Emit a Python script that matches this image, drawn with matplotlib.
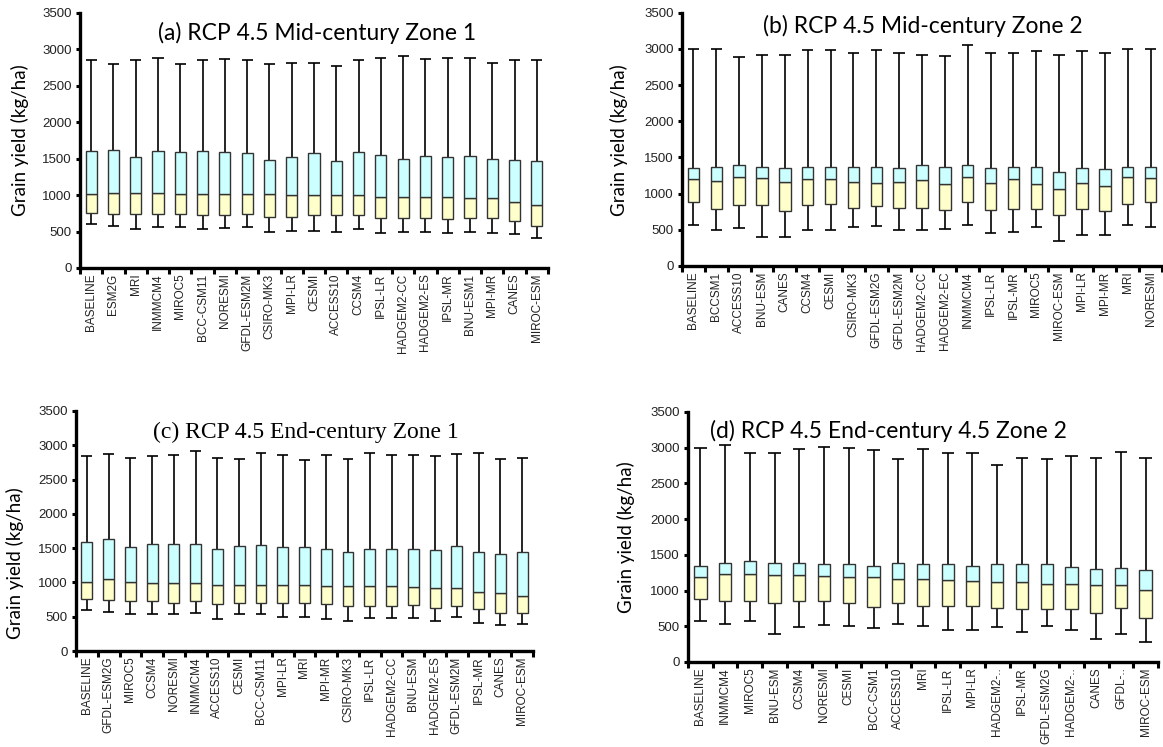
import matplotlib
matplotlib.use("Agg")
import matplotlib.pyplot as plt
import numpy as np

# ---- panel (a) RCP 4.5 Mid-century Zone 1
labels_a = ["BASELINE", "ESM2G", "MRI", "INMMCM4", "MIROC5", "BCC-CSM11", "NORESMI",
            "GFDL-ESM2M", "CSIRO-MK3", "MPI-LR", "CESMI", "ACCESS10", "CCSM4", "IPSL-LR",
            "HADGEM2-CC", "HADGEM2-ES", "IPSL-MR", "BNU-ESM1", "MPI-MR", "CANES", "MIROC-ESM"]
max_a = [2850, 2800, 2850, 2880, 2800, 2850, 2870, 2850, 2800, 2810, 2810, 2770, 2850, 2880,
         2900, 2870, 2880, 2880, 2810, 2850, 2850]
q3_a = [1600, 1620, 1520, 1600, 1590, 1600, 1590, 1570, 1480, 1520, 1570, 1470, 1590, 1550,
        1500, 1530, 1520, 1530, 1500, 1480, 1470]
med_a = [1010, 1030, 1030, 1030, 1010, 1010, 1010, 1010, 1010, 1000, 1000, 1000, 1000, 980,
         980, 980, 980, 960, 960, 910, 860]
q1_a = [750, 740, 740, 740, 740, 720, 720, 740, 700, 700, 720, 720, 720, 690,
        690, 690, 670, 690, 690, 640, 580]
min_a = [600, 580, 530, 560, 560, 530, 550, 560, 500, 510, 510, 500, 530, 480,
         500, 500, 480, 500, 480, 470, 410]

# ---- panel (b) RCP 4.5 Mid-century Zone 2
labels_b = ["BASELINE", "BCCSM1", "ACCESS10", "BNU-ESM", "CANES", "CCSM4", "CESMI",
            "CSIRO-MK3", "GFDL-ESM2G", "GFDL-ESM2M", "HADGEM2-CC", "HADGEM2-EC", "INMMCM4",
            "IPSL-LR", "IPSL-MR", "MIROC5", "MIROC-ESM", "MPI-LR", "MPI-MR", "MRI", "NORESMI"]
max_b = [3000, 3000, 2890, 2920, 2910, 2980, 2980, 2950, 2980, 2950, 2920, 2900, 3050,
         2950, 2950, 2970, 2920, 2970, 2950, 3000, 3000]
q3_b = [1356, 1374, 1393, 1374, 1356, 1374, 1374, 1374, 1374, 1356, 1393, 1374, 1393,
        1356, 1374, 1374, 1305, 1356, 1337, 1374, 1374]
med_b = [1203, 1171, 1236, 1217, 1162, 1203, 1203, 1167, 1148, 1167, 1185, 1134, 1236,
         1148, 1203, 1134, 1060, 1148, 1111, 1236, 1217]
q1_b = [881, 793, 844, 844, 756, 844, 862, 807, 825, 807, 807, 775, 881,
        775, 793, 793, 705, 793, 756, 862, 881]
min_b = [567, 503, 530, 397, 397, 503, 503, 535, 553, 503, 503, 516, 572,
         452, 470, 535, 346, 433, 433, 572, 535]

# ---- panel (c) RCP 4.5 End-century Zone 1
labels_c = ["BASELINE", "GFDL-ESM2G", "MIROC5", "CCSM4", "NORESMI", "INMMCM4", "ACCESS10",
            "CESMI", "BCC-CSM11", "MPI-LR", "MRI", "MPI-MR", "CSIRO-MK3", "IPSL-LR",
            "HADGEM2-CC", "BNU-ESM", "HADGEM2-ES", "GFDL-ESM2M", "IPSL-MR", "CANES", "MIROC-ESM"]
max_c = [2837, 2871, 2818, 2837, 2857, 2910, 2818, 2803, 2891, 2857, 2784, 2857, 2803, 2891,
         2857, 2857, 2837, 2871, 2891, 2803, 2818]
q3_c = [1594, 1633, 1516, 1565, 1565, 1565, 1492, 1531, 1550, 1516, 1516, 1492, 1443, 1492,
        1492, 1492, 1472, 1531, 1443, 1409, 1443]
med_c = [1009, 1053, 1009, 985, 985, 985, 965, 965, 965, 965, 965, 946, 946, 946,
         946, 931, 912, 912, 863, 848, 804]
q1_c = [760, 746, 726, 726, 707, 726, 692, 707, 707, 707, 707, 692, 658, 658,
        658, 678, 634, 658, 619, 551, 551]
min_c = [604, 570, 536, 536, 536, 551, 463, 536, 536, 497, 497, 463, 444, 483,
         483, 483, 444, 497, 410, 375, 390]

# ---- panel (d) RCP 4.5 End-century 4.5 Zone 2
labels_d = ["BASELINE", "INMMCM4", "MIROC5", "BNU-ESM", "CCSM4", "NORESMI", "CESMI",
            "BCC-CSM1", "ACCESS10", "MRI", "IPSL-LR", "MPI-LR", "HADGEM2-..", "IPSL-MR",
            "GFDL-ESM2G", "HADGEM2-..", "CANES", "GFDL-..", "MIROC-ESM"]
max_d = [3000, 3043, 2926, 2926, 2978, 3005, 2996, 2964, 2838, 2978, 2926, 2926, 2759, 2857,
         2838, 2889, 2857, 2945, 2857]
q3_d = [1351, 1389, 1407, 1389, 1389, 1370, 1370, 1351, 1389, 1370, 1370, 1351, 1370, 1370,
        1370, 1333, 1300, 1319, 1286]
med_d = [1184, 1235, 1235, 1216, 1216, 1202, 1184, 1184, 1165, 1165, 1151, 1132, 1114, 1114,
         1095, 1095, 1081, 1081, 1011]
q1_d = [885, 857, 857, 820, 857, 857, 820, 769, 820, 788, 788, 788, 750, 736,
        736, 736, 685, 750, 610]
min_d = [569, 536, 569, 387, 489, 517, 503, 471, 536, 503, 452, 452, 489, 419,
         503, 452, 317, 387, 284]

W, H = 1163, 747
fig = plt.figure(figsize=(W / 100, H / 100), dpi=100)


def px_axes(x0, x1, ytop, ybot):
    return fig.add_axes([x0 / W, 1 - ybot / H, (x1 - x0) / W, (ybot - ytop) / H])


def draw_panel(ax, labels, mx, q3, med, q1, mn):
    n = len(labels)
    x = np.arange(1, n + 1)
    q3 = np.array(q3); med = np.array(med); q1 = np.array(q1)
    w = 0.5
    ax.vlines(x, mn, q1, color="black", lw=1.2, zorder=1)
    ax.vlines(x, q3, mx, color="black", lw=1.2, zorder=1)
    ax.hlines(mn, x - w / 2, x + w / 2, color="black", lw=1.2)
    ax.hlines(mx, x - w / 2, x + w / 2, color="black", lw=1.2)
    ax.bar(x, med - q1, bottom=q1, width=w, color="#ffffcc", edgecolor="#333333",
           linewidth=1.0, zorder=2)
    ax.bar(x, q3 - med, bottom=med, width=w, color="#ccffff", edgecolor="#333333",
           linewidth=1.0, zorder=2)
    ax.set_xlim(0.5, n + 0.5)
    ax.set_ylim(0, 3500)
    ax.set_yticks(np.arange(0, 3501, 500))
    ax.set_xticks(np.arange(0.5, n + 1, 1.0))
    ax.set_xticklabels([])
    ax.set_xticks(x, minor=True)
    ax.set_xticklabels(labels, minor=True, rotation=90, fontsize=8.5,
                       family="Liberation Sans", color="#222222")
    ax.tick_params(axis="x", which="minor", length=0, pad=4)
    ax.tick_params(axis="x", which="major", length=4, width=2.2, direction="out")
    ax.tick_params(axis="y", length=3, width=2.2, direction="out", pad=3,
                   labelsize=9.5, labelcolor="#222222")
    for t in ax.get_yticklabels():
        t.set_family("Liberation Sans")
    for s in ["top", "right"]:
        ax.spines[s].set_visible(False)
    for s in ["left", "bottom"]:
        ax.spines[s].set_linewidth(2.4)
        ax.spines[s].set_color("black")
    ax.set_facecolor("white")


ax_a = px_axes(80, 548, 12.7, 268)
ax_b = px_axes(682, 1162, 12.7, 266)
ax_c = px_axes(76, 533, 411, 651)
ax_d = px_axes(688, 1158, 412, 662)

draw_panel(ax_a, labels_a, max_a, q3_a, med_a, q1_a, min_a)
draw_panel(ax_b, labels_b, max_b, q3_b, med_b, q1_b, min_b)
draw_panel(ax_c, labels_c, max_c, q3_c, med_c, q1_c, min_c)
draw_panel(ax_d, labels_d, max_d, q3_d, med_d, q1_d, min_d)

title_font = "Lato"
fig.text(317 / W, 1 - 33 / H, "(a) RCP 4.5 Mid-century Zone 1", ha="center", va="center",
         fontsize=16.5, family=title_font)
fig.text(923 / W, 1 - 26 / H, "(b) RCP 4.5 Mid-century Zone 2", ha="center", va="center",
         fontsize=16.5, family=title_font)
fig.text(306 / W, 1 - 432 / H, "(c) RCP 4.5 End-century Zone 1", ha="center", va="center",
         fontsize=17, family="Liberation Serif")
fig.text(888 / W, 1 - 431 / H, "(d) RCP 4.5 End-century 4.5 Zone 2", ha="center", va="center",
         fontsize=16.5, family=title_font)

ylab = "Grain yield (kg/ha)"
fig.text(20 / W, 1 - 140 / H, ylab, rotation=90, ha="center", va="center", fontsize=13.5,
         family=title_font)
fig.text(619 / W, 1 - 140 / H, ylab, rotation=90, ha="center", va="center", fontsize=13.5,
         family=title_font)
fig.text(15 / W, 1 - 563 / H, ylab, rotation=90, ha="center", va="center", fontsize=13.5,
         family=title_font)
fig.text(626 / W, 1 - 537 / H, ylab, rotation=90, ha="center", va="center", fontsize=13.5,
         family=title_font)

fig.savefig("out.png", dpi=100)
